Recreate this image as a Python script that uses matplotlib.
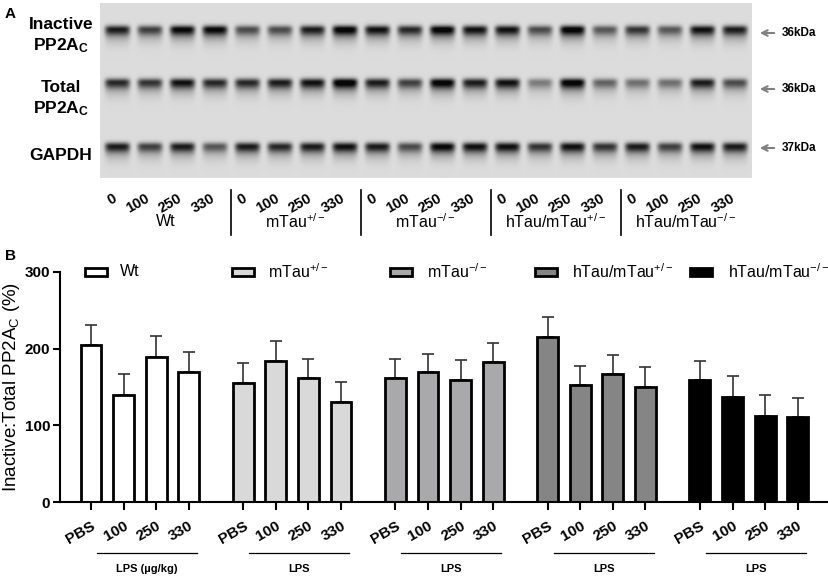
import numpy as np
import matplotlib
matplotlib.use("Agg")
import matplotlib.pyplot as plt
from matplotlib.patches import Rectangle
from matplotlib.transforms import blended_transform_factory

plt.rcParams['font.family'] = ['Liberation Sans', 'DejaVu Sans']
plt.rcParams['mathtext.default'] = 'regular'

W, H = 829, 578

# ---- data ----
genotypes = ['Wt', 'mTau$^{+/-}$', 'mTau$^{-/-}$', 'hTau/mTau$^{+/-}$', 'hTau/mTau$^{-/-}$']
doses = ['PBS', '100', '250', '330']
lane_doses = ['0', '100', '250', '330']
lps_labels = ['LPS (µg/kg)', 'LPS', 'LPS', 'LPS', 'LPS']

wt_mean = [205, 140, 189, 170]
wt_err = [26, 27, 28, 26]
mtau_het_mean = [155, 184, 162, 131]
mtau_het_err = [26, 26, 25, 26]
mtau_ko_mean = [162, 169, 159, 182]
mtau_ko_err = [25, 24, 26, 26]
htau_het_mean = [215, 152, 167, 150]
htau_het_err = [26, 26, 25, 26]
htau_ko_mean = [159, 137, 112, 111]
htau_ko_err = [25, 27, 28, 25]

means = [wt_mean, mtau_het_mean, mtau_ko_mean, htau_het_mean, htau_ko_mean]
errs = [wt_err, mtau_het_err, mtau_ko_err, htau_het_err, htau_ko_err]
colors = ['#ffffff', '#d9d9d9', '#a9a9ab', '#858585', '#000000']

# blot band darkness (0..1) per lane, 20 lanes
inactive_bands = [0.80, 0.65, 0.90, 0.90, 0.60, 0.60, 0.80, 0.95, 0.85, 0.75,
                  0.95, 0.85, 0.85, 0.60, 0.95, 0.55, 0.70, 0.55, 0.85, 0.80]
total_bands = [0.75, 0.70, 0.85, 0.75, 0.75, 0.80, 0.85, 1.00, 0.80, 0.65,
               0.95, 0.80, 0.85, 0.40, 0.95, 0.50, 0.45, 0.45, 0.80, 0.60]
gapdh_bands = [0.80, 0.65, 0.80, 0.55, 0.80, 0.75, 0.80, 0.85, 0.80, 0.60,
               0.90, 0.85, 0.85, 0.70, 0.85, 0.70, 0.80, 0.65, 0.85, 0.80]
blot_rows = ['Inactive\nPP2A$_C$', 'Total\nPP2A$_C$', 'GAPDH']
row_kda = ['36kDa', '36kDa', '37kDa']

fig = plt.figure(figsize=(W / 100, H / 100), dpi=100)

# overlay in pixel coordinates
ov = fig.add_axes([0, 0, 1, 1], zorder=0)
ov.axis('off')

# ---- panel A: blot ----
bx0, bx1, by0, by1 = 100, 752, 3, 178
lane_x = 117 + 32.5 * np.arange(20)
row_y = [29, 82, 146]
yy, xx = np.mgrid[0:by1 - by0, 0:bx1 - bx0]
img = np.full(yy.shape, 0.86)
for yc, dens in zip(row_y, [inactive_bands, total_bands, gapdh_bands]):
    for xc, d in zip(lane_x, dens):
        hx = np.exp(-((xx - (xc - bx0)) / 12.5) ** 6)
        dy = yy - (yc - by0)
        vy = np.where(dy < 0, np.exp(-(dy / 4.0) ** 2),
                      0.6 * np.exp(-(dy / 5.5) ** 2) + 0.4 * np.exp(-(dy / 12.0) ** 2))
        img -= 0.95 * d * hx * vy
img = np.clip(img, 0.03, 1)
ov.imshow(img, cmap='gray', vmin=0, vmax=1, extent=(bx0, bx1, by1, by0),
          aspect='auto', interpolation='bilinear')
ov.set_xlim(0, W)
ov.set_ylim(H, 0)

ov.text(5, 14, 'A', fontsize=11, fontweight='bold', va='center')
ov.text(61, 36, blot_rows[0], fontsize=12.5, fontweight='bold', ha='center', va='center', linespacing=1.25)
ov.text(61, 99, blot_rows[1], fontsize=12.5, fontweight='bold', ha='center', va='center', linespacing=1.25)
ov.text(61, 155, blot_rows[2], fontsize=12.5, fontweight='bold', ha='center', va='center')
for yc, kda in zip([33, 89, 148], row_kda):
    ov.annotate('', xy=(757, yc), xytext=(777, yc),
                arrowprops=dict(arrowstyle='->', color='#808080', lw=1.5))
    ov.text(782, yc, kda, fontsize=8.5, fontweight='bold', va='center')

for i, x in enumerate(lane_x):
    ov.text(x + 1, 201, lane_doses[i % 4], fontsize=10.5, fontweight='bold',
            rotation=30, ha='right', va='baseline', rotation_mode='anchor')
for g in range(5):
    gx = lane_x[4 * g] + 32.5 * 1.5
    ov.text(gx, 222, genotypes[g], fontsize=11.5, ha='center', va='center')
    if g > 0:
        sx = lane_x[4 * g] - 16
        ov.plot([sx, sx], [190, 235], color='black', lw=1.2)

# ---- panel B: bars ----
ax = fig.add_axes([60 / W, 1 - 502 / H, (W - 60) / W, 230 / H], zorder=1)
ax.patch.set_alpha(0)
gap = 4.67
xs_all, labels_all = [], []
for g in range(5):
    xs = g * gap + np.arange(4)
    ax.bar(xs, means[g], width=0.64, color=colors[g], edgecolor='black', linewidth=2, zorder=2)
    ax.errorbar(xs, means[g], yerr=[np.zeros(4), errs[g]], fmt='none',
                ecolor='#333333', elinewidth=1.2, capsize=4, capthick=1.2, zorder=1)
    xs_all.extend(xs)
    labels_all.extend(doses)

ax.set_xlim(-0.95, 22.64)
ax.set_ylim(0, 300)
ax.set_yticks([0, 100, 200, 300])
ax.set_xticks(xs_all)
ax.set_xticklabels(labels_all, rotation=30, ha='right', va='top',
                   rotation_mode='anchor', fontweight='bold', fontsize=11)
for lab in ax.get_yticklabels():
    lab.set_fontweight('bold')
    lab.set_fontsize(11)
ax.tick_params(axis='x', length=6, width=1.5, pad=6)
ax.tick_params(axis='y', length=5, width=1.5, pad=2)
ax.spines['top'].set_visible(False)
ax.spines['right'].set_visible(False)
ax.spines['left'].set_linewidth(1.5)
ax.spines['bottom'].set_linewidth(1.5)
ax.set_ylabel('Inactive:Total PP2A$_C$ (%)', fontsize=13.5, labelpad=2)

trans = blended_transform_factory(ax.transData, ax.transAxes)
for g in range(5):
    x0 = g * gap + 0.18
    x1 = g * gap + 3.25
    ax.plot([x0, x1], [-0.222, -0.222], color='black', lw=0.9, transform=trans, clip_on=False)
    ax.text((x0 + x1) / 2, -0.29, lps_labels[g], transform=trans, ha='center', va='center',
            fontsize=8, fontweight='bold')

ov.text(5, 256, 'B', fontsize=11, fontweight='bold', va='center')

# legend
leg_patch_x = [85, 232, 390, 535, 690]
leg_text_x = [120, 268, 427, 572, 728]
for g in range(5):
    ov.add_patch(Rectangle((leg_patch_x[g], 268), 22, 8, facecolor=colors[g],
                           edgecolor='black', lw=2))
    ov.text(leg_text_x[g], 272, genotypes[g], fontsize=11.5, va='center')

fig.savefig('out.png', dpi=100)
